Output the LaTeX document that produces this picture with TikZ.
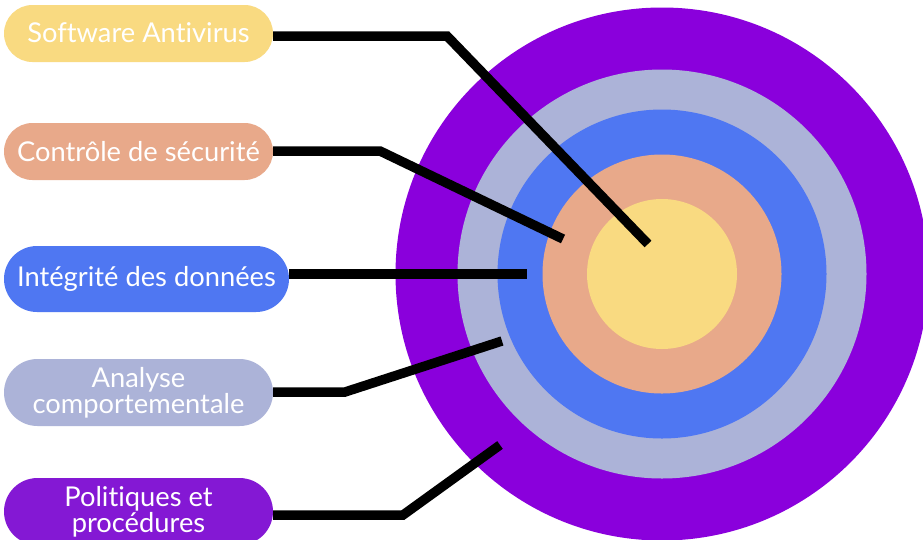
\documentclass[tikz,border=0pt]{standalone}
\usepackage{fontspec}
\setmainfont{Lato}[Ligatures=NoCommon]
\definecolor{cYellow}{HTML}{F9DA81}
\definecolor{cSalmon}{HTML}{E8A98A}
\definecolor{cBlue}{HTML}{4F77F2}
\definecolor{cLav}{HTML}{ACB3D8}
\definecolor{cPurple}{HTML}{8A00DC}
\definecolor{cPill}{HTML}{8418D4}
\tikzset{
  ring/.style={circle, inner sep=0pt, draw=none},
  pill/.style={rectangle, inner sep=0pt, draw=none, text=white, align=center,
    font=\fontsize{27.3}{24.5}\selectfont, minimum width=269pt},
  conn/.style={line width=9.5pt, line cap=butt, line join=miter, black}
}
\begin{document}
\begin{tikzpicture}[x=1pt,y=-1pt]
\useasboundingbox (0,0) rectangle (923,539);
\clip (0,0) rectangle (923,539);
\fill[white] (0,0) rectangle (923,539);
% target rings
\node[ring, fill=cPurple, minimum size=533pt] (r5) at (662,274) {};
\node[ring, fill=cLav, minimum size=409pt] (r4) at (662,274) {};
\node[ring, fill=cBlue, minimum size=329pt] (r3) at (662,274) {};
\node[ring, fill=cSalmon, minimum size=239pt] (r2) at (662,274) {};
\node[ring, fill=cYellow, minimum size=150pt] (r1) at (662,274) {};
% labels
\node[pill, fill=cYellow, minimum height=57pt, rounded corners=28.5pt] (p1) at (138.5,33.5) {\raisebox{2pt}{Software Antivirus}};
\node[pill, fill=cSalmon, minimum height=57pt, rounded corners=28.5pt] (p2) at (138.5,151.5) {Contrôle de sécurité};
\node[pill, fill=cBlue, minimum height=66pt, minimum width=285pt, rounded corners=33pt] (p3) at (146.5,279) {Intégrité des données};
\node[pill, fill=cLav, minimum height=67pt, rounded corners=33.5pt] (p4) at (138.5,392.5) {Analyse\\comportementale};
\node[pill, fill=cPill, minimum height=67pt, rounded corners=33.5pt] (p5) at (138.5,511.5) {Politiques et\\procédures};
% connector points
\coordinate (b1) at (447,36);  \coordinate (e1) at (648,244);
\coordinate (b2) at (380,151); \coordinate (e2) at (563,239);
\coordinate (e3) at (527,274);
\coordinate (b4) at (345,392); \coordinate (e4) at (502,341);
\coordinate (b5) at (403,515); \coordinate (e5) at (500,445);
% connectors
\draw[conn] (p1.east |- b1) -- (b1) -- (e1);
\draw[conn] (p2.east |- b2) -- (b2) -- (e2);
\draw[conn] (p3.east |- e3) -- (e3);
\draw[conn] (p4.east |- b4) -- (b4) -- (e4);
\draw[conn] (p5.east |- b5) -- (b5) -- (e5);
\end{tikzpicture}
\end{document}
